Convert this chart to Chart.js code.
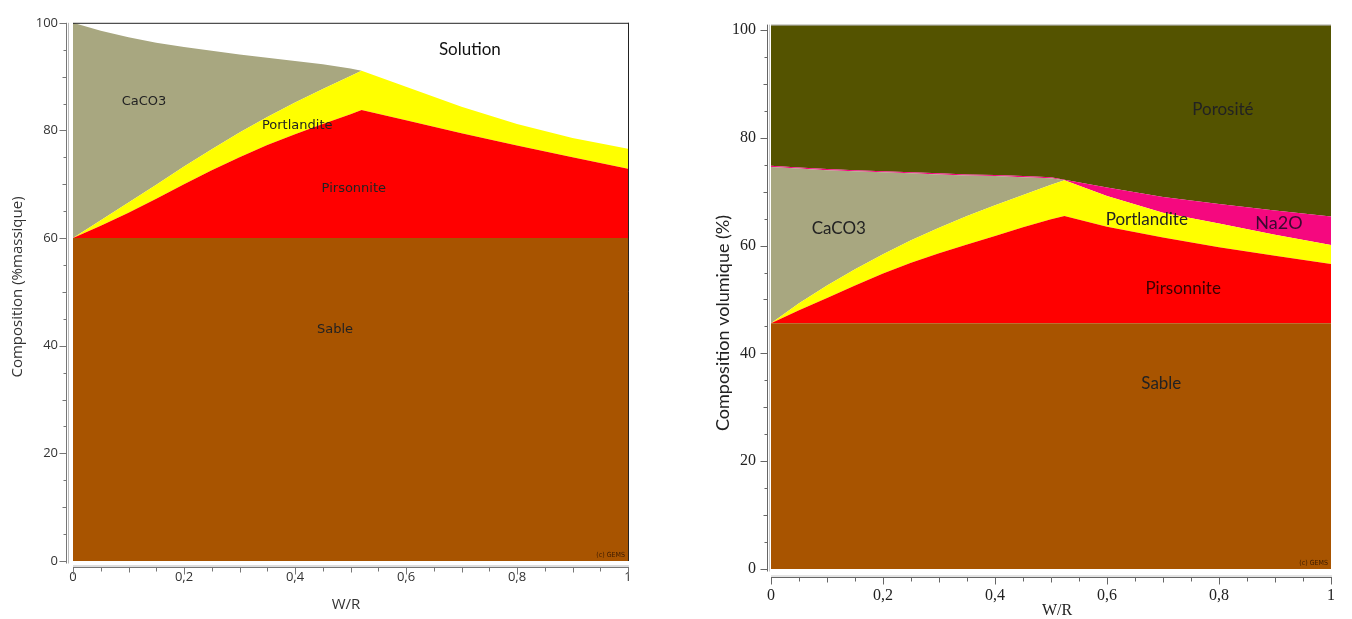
<!DOCTYPE html>
<html><head><meta charset="utf-8">
<script src="https://cdn.jsdelivr.net/npm/chart.js@4.4.1/dist/chart.umd.min.js"></script>
<style>
html,body{margin:0;padding:0;background:#fff;overflow:hidden;}
#left{position:absolute;left:0;top:0;width:660px;height:619px;}
#right{position:absolute;left:676px;top:0;width:676px;height:619px;}
</style></head><body>
<div id="left"><canvas id="c1"></canvas></div>
<div id="right"><canvas id="c2"></canvas></div>
<script>
// ---- Left chart: composition (% massique) vs W/R ----
const wrMass          = [0, 0.05, 0.1, 0.15, 0.2, 0.25, 0.3, 0.35, 0.4, 0.45, 0.5, 0.52, 0.6, 0.7, 0.8, 0.9, 1.0];
const sableMass       = [60, 60, 60, 60, 60, 60, 60, 60, 60, 60, 60, 60, 60, 60, 60, 60, 60];
const pirsonniteMass  = [0, 2.3, 4.7, 7.3, 10.0, 12.6, 15.0, 17.3, 19.3, 21.2, 23.0, 23.8, 21.9, 19.5, 17.2, 15.0, 12.9];
const portlanditeMass = [0, 1.0, 1.9, 2.6, 3.3, 3.9, 4.6, 5.2, 5.9, 6.5, 7.1, 7.3, 6.2, 4.9, 4.0, 3.6, 3.7];
const caco3Mass       = [40, 35.2, 30.7, 26.4, 22.2, 18.3, 14.5, 11.0, 7.7, 4.6, 1.4, 0, 0, 0, 0, 0, 0];

// ---- Right chart: composition volumique (%) vs W/R ----
const wrVol           = [0, 0.05, 0.1, 0.15, 0.2, 0.25, 0.3, 0.35, 0.4, 0.45, 0.5, 0.524, 0.6, 0.7, 0.8, 0.9, 1.0];
const sableVol        = [45.6, 45.6, 45.6, 45.6, 45.6, 45.6, 45.6, 45.6, 45.6, 45.6, 45.6, 45.6, 45.6, 45.6, 45.6, 45.6, 45.6];
const pirsonniteVol   = [0, 2.4, 4.7, 7.0, 9.2, 11.2, 13.0, 14.6, 16.2, 17.8, 19.3, 19.9, 17.9, 15.9, 14.1, 12.5, 11.0];
const portlanditeVol  = [0, 1.3, 2.3, 3.0, 3.6, 4.2, 4.7, 5.3, 5.7, 6.0, 6.4, 6.6, 5.7, 4.6, 4.4, 3.9, 3.5];
const caco3Vol        = [29.0, 25.0, 21.4, 18.2, 15.2, 12.4, 9.9, 7.5, 5.4, 3.3, 1.2, 0, 0, 0, 0, 0, 0];
const na2oVol         = [0.2, 0.2, 0.2, 0.2, 0.2, 0.2, 0.2, 0.2, 0.2, 0.2, 0.2, 0.1, 1.6, 2.9, 3.6, 4.5, 5.3];
const porositeVol     = [26.2, 26.5, 26.8, 27.0, 27.2, 27.4, 27.6, 27.8, 27.9, 28.1, 28.3, 28.8, 30.2, 32.0, 33.3, 34.5, 35.6];

const yTicksPct = [0, 20, 40, 60, 80, 100];
const xTicksWR  = [0, 0.2, 0.4, 0.6, 0.8, 1];

const massLabels = [
  {t: 'CaCO3',       x: 0.128, y: 85.3, f: '13px "DejaVu Sans"'},
  {t: 'Portlandite', x: 0.404, y: 80.9, f: '13px "DejaVu Sans"'},
  {t: 'Pirsonnite',  x: 0.506, y: 69.1, f: '13px "DejaVu Sans"'},
  {t: 'Sable',       x: 0.472, y: 42.9, f: '13px "DejaVu Sans"'},
  {t: 'Solution',    x: 0.715, y: 95.0, f: '17px Lato', c: '#111'}
];
const volLabels = [
  {t: 'Porosité',    x: 0.807, y: 85.2, f: '17px Lato'},
  {t: 'CaCO3',       x: 0.121, y: 63.2, f: '17px Lato'},
  {t: 'Portlandite', x: 0.671, y: 64.8, f: '17px Lato'},
  {t: 'Na2O',        x: 0.907, y: 64.2, f: '18px Lato', c: '#3a0a30'},
  {t: 'Pirsonnite',  x: 0.736, y: 52.1, f: '17px Lato', c: '#3a0000'},
  {t: 'Sable',       x: 0.697, y: 34.4, f: '17px Lato'}
];

const COLORS = {
  sable: '#A85400', pirsonnite: '#FF0000', portlandite: '#FFFF00',
  caco3: '#A8A780', na2o: '#F5087F', porosite: '#545300'
};

function pts(xs, ys) { return xs.map((x, i) => ({x: x, y: ys[i]})); }
function ds(label, xs, ys, color, fill) {
  return {label, data: pts(xs, ys), backgroundColor: color, borderColor: color,
          borderWidth: 0, pointRadius: 0, pointHoverRadius: 0, fill, tension: 0};
}
const fmt = v => String(+(+v).toFixed(2)).replace('.', ',');

const gemsPlugin = {
  id: 'gems',
  beforeDatasetsDraw(chart, args, o) {
    const {ctx, chartArea: a} = chart;
    if (o.frameRight) {
      ctx.save(); ctx.strokeStyle = o.frameColor; ctx.lineWidth = 1;
      ctx.beginPath(); ctx.moveTo(a.right + 0.5, a.top); ctx.lineTo(a.right + 0.5, a.bottom); ctx.stroke();
      ctx.restore();
    }
  },
  afterDatasetsDraw(chart, args, o) {
    const {ctx, chartArea: a} = chart;
    ctx.save(); ctx.strokeStyle = o.frameColor; ctx.lineWidth = 1;
    ctx.beginPath(); ctx.moveTo(a.left, a.top + 0.5); ctx.lineTo(a.right + (o.frameRight ? 1 : 0), a.top + 0.5); ctx.stroke();
    ctx.restore();
  },
  afterDraw(chart, args, o) {
    const {ctx, chartArea: a} = chart;
    const xs = chart.scales.x, ys = chart.scales.y;
    ctx.save();
    ctx.lineWidth = 1;
    // y axis (double line)
    const ax = Math.round(a.left - o.yGap) + 0.5;
    const yb = Math.round(ys.getPixelForValue(0)) + 0.5;
    ctx.strokeStyle = o.axisColor2;
    ctx.beginPath(); ctx.moveTo(ax + 2, a.top); ctx.lineTo(ax + 2, yb + 2); ctx.stroke();
    ctx.strokeStyle = o.axisColor;
    ctx.beginPath(); ctx.moveTo(ax, a.top); ctx.lineTo(ax, yb + 2); ctx.stroke();
    for (let v = 0; v <= 100; v += 5) {
      const py = Math.round(ys.getPixelForValue(v)) + 0.5;
      const len = v % 20 === 0 ? 7 : (v % 10 === 0 ? 4 : 3);
      ctx.beginPath(); ctx.moveTo(ax - len, py); ctx.lineTo(ax, py); ctx.stroke();
    }
    // x axis
    const ay = Math.round(a.bottom + o.xGap) + 0.5;
    const x0 = xs.getPixelForValue(0), x1 = xs.getPixelForValue(1);
    ctx.beginPath(); ctx.moveTo(x0, ay); ctx.lineTo(x1 + 1, ay); ctx.stroke();
    ctx.strokeStyle = o.axisColor2;
    ctx.beginPath(); ctx.moveTo(x0, ay - 1.5); ctx.lineTo(x1 + 1, ay - 1.5); ctx.stroke();
    ctx.strokeStyle = o.axisColor;
    for (let i = 0; i <= 20; i++) {
      const px = Math.round(xs.getPixelForValue(i / 20)) + 0.5;
      const len = i % 4 === 0 ? 7 : (i % 2 === 0 ? 5 : 4);
      ctx.beginPath(); ctx.moveTo(px, ay); ctx.lineTo(px, ay + len); ctx.stroke();
    }
    // titles
    ctx.fillStyle = o.titleColor;
    ctx.textAlign = 'center'; ctx.textBaseline = 'middle';
    ctx.font = o.yTitleFont;
    ctx.save(); ctx.translate(o.yTitleX, o.yTitleY); ctx.rotate(-Math.PI / 2);
    ctx.fillText(o.yTitle, 0, 0); ctx.restore();
    ctx.font = o.xTitleFont;
    ctx.fillText(o.xTitle, o.xTitleX, o.xTitleY);
    // region labels
    for (const L of o.labels) {
      ctx.font = L.f; ctx.fillStyle = L.c || '#222';
      ctx.fillText(L.t, xs.getPixelForValue(L.x), ys.getPixelForValue(L.y));
    }
    // credit
    ctx.font = '7px "DejaVu Sans Condensed", "DejaVu Sans"';
    ctx.fillStyle = '#3a1a00'; ctx.textAlign = 'right';
    ctx.fillText('(c) GEMS', a.right - 3, ys.getPixelForValue(0) - 6);
    ctx.restore();
  }
};

function makeOptions(cfg) {
  return {
    responsive: true, maintainAspectRatio: false, animation: false, devicePixelRatio: 1,
    layout: {padding: {left: 0, right: cfg.padRight, top: cfg.padTop, bottom: 0}},
    plugins: {
      legend: {display: false}, tooltip: {enabled: false},
      filler: {propagate: false},
      gems: cfg.gems
    },
    scales: {
      x: {
        type: 'linear', min: 0, max: 1,
        afterFit: s => { s.height = cfg.xHeight; },
        afterBuildTicks: s => { s.ticks = xTicksWR.map(v => ({value: v})); },
        grid: {display: false, drawTicks: false},
        border: {display: false},
        ticks: {padding: cfg.xPad, color: cfg.tickColor, font: cfg.xFont, callback: fmt, maxRotation: 0, autoSkip: false}
      },
      y: {
        type: 'linear', min: 0, max: cfg.yMax, stacked: true,
        afterFit: s => { s.width = cfg.yWidth; },
        afterBuildTicks: s => { s.ticks = yTicksPct.map(v => ({value: v})); },
        grid: {display: false, drawTicks: false},
        border: {display: false},
        ticks: {padding: cfg.yPad, color: cfg.tickColor, font: cfg.yFont, callback: fmt, autoSkip: false}
      }
    }
  };
}

new Chart(document.getElementById('c1'), {
  type: 'line',
  data: {datasets: [
    ds('Sable', wrMass, sableMass, COLORS.sable, 'origin'),
    ds('Pirsonnite', wrMass, pirsonniteMass, COLORS.pirsonnite, '-1'),
    ds('Portlandite', wrMass, portlanditeMass, COLORS.portlandite, '-1'),
    ds('CaCO3', wrMass, caco3Mass, COLORS.caco3, '-1')
  ]},
  options: makeOptions({
    padRight: 32, padTop: 18, xHeight: 58, yWidth: 73, yMax: 100,
    xPad: 8, yPad: 15, tickColor: '#333',
    xFont: {family: 'Open Sans', size: 13}, yFont: {family: 'Open Sans', size: 13},
    gems: {
      frameRight: true, frameColor: '#222', axisColor: '#777', axisColor2: '#bbb',
      yGap: 7, xGap: 6, titleColor: '#333',
      yTitle: 'Composition (%massique)', yTitleFont: '15px "Open Sans"', yTitleX: 18, yTitleY: 287,
      xTitle: 'W/R', xTitleFont: '15px "Open Sans"', xTitleX: 346, xTitleY: 605,
      labels: massLabels
    }
  }),
  plugins: [gemsPlugin]
});

new Chart(document.getElementById('c2'), {
  type: 'line',
  data: {datasets: [
    ds('Sable', wrVol, sableVol, COLORS.sable, 'origin'),
    ds('Pirsonnite', wrVol, pirsonniteVol, COLORS.pirsonnite, '-1'),
    ds('Portlandite', wrVol, portlanditeVol, COLORS.portlandite, '-1'),
    ds('CaCO3', wrVol, caco3Vol, COLORS.caco3, '-1'),
    ds('Na2O', wrVol, na2oVol, COLORS.na2o, '-1'),
    ds('Porosité', wrVol, porositeVol, COLORS.porosite, '-1')
  ]},
  options: makeOptions({
    padRight: 9, padTop: 15, xHeight: 50, yWidth: 95, yMax: 101,
    xPad: 17, yPad: 15, tickColor: '#222',
    xFont: {family: 'Liberation Serif', size: 16}, yFont: {family: 'Liberation Serif', size: 16},
    gems: {
      frameRight: false, frameColor: '#b5b5b5', axisColor: '#666', axisColor2: '#c8c8c8',
      yGap: 4, xGap: 8, titleColor: '#222',
      yTitle: 'Composition volumique (%)', yTitleFont: '18px Lato', yTitleX: 47, yTitleY: 323,
      xTitle: 'W/R', xTitleFont: '16px "Liberation Serif"', xTitleX: 381, xTitleY: 611,
      labels: volLabels
    }
  }),
  plugins: [gemsPlugin]
});
</script>
</body></html>
